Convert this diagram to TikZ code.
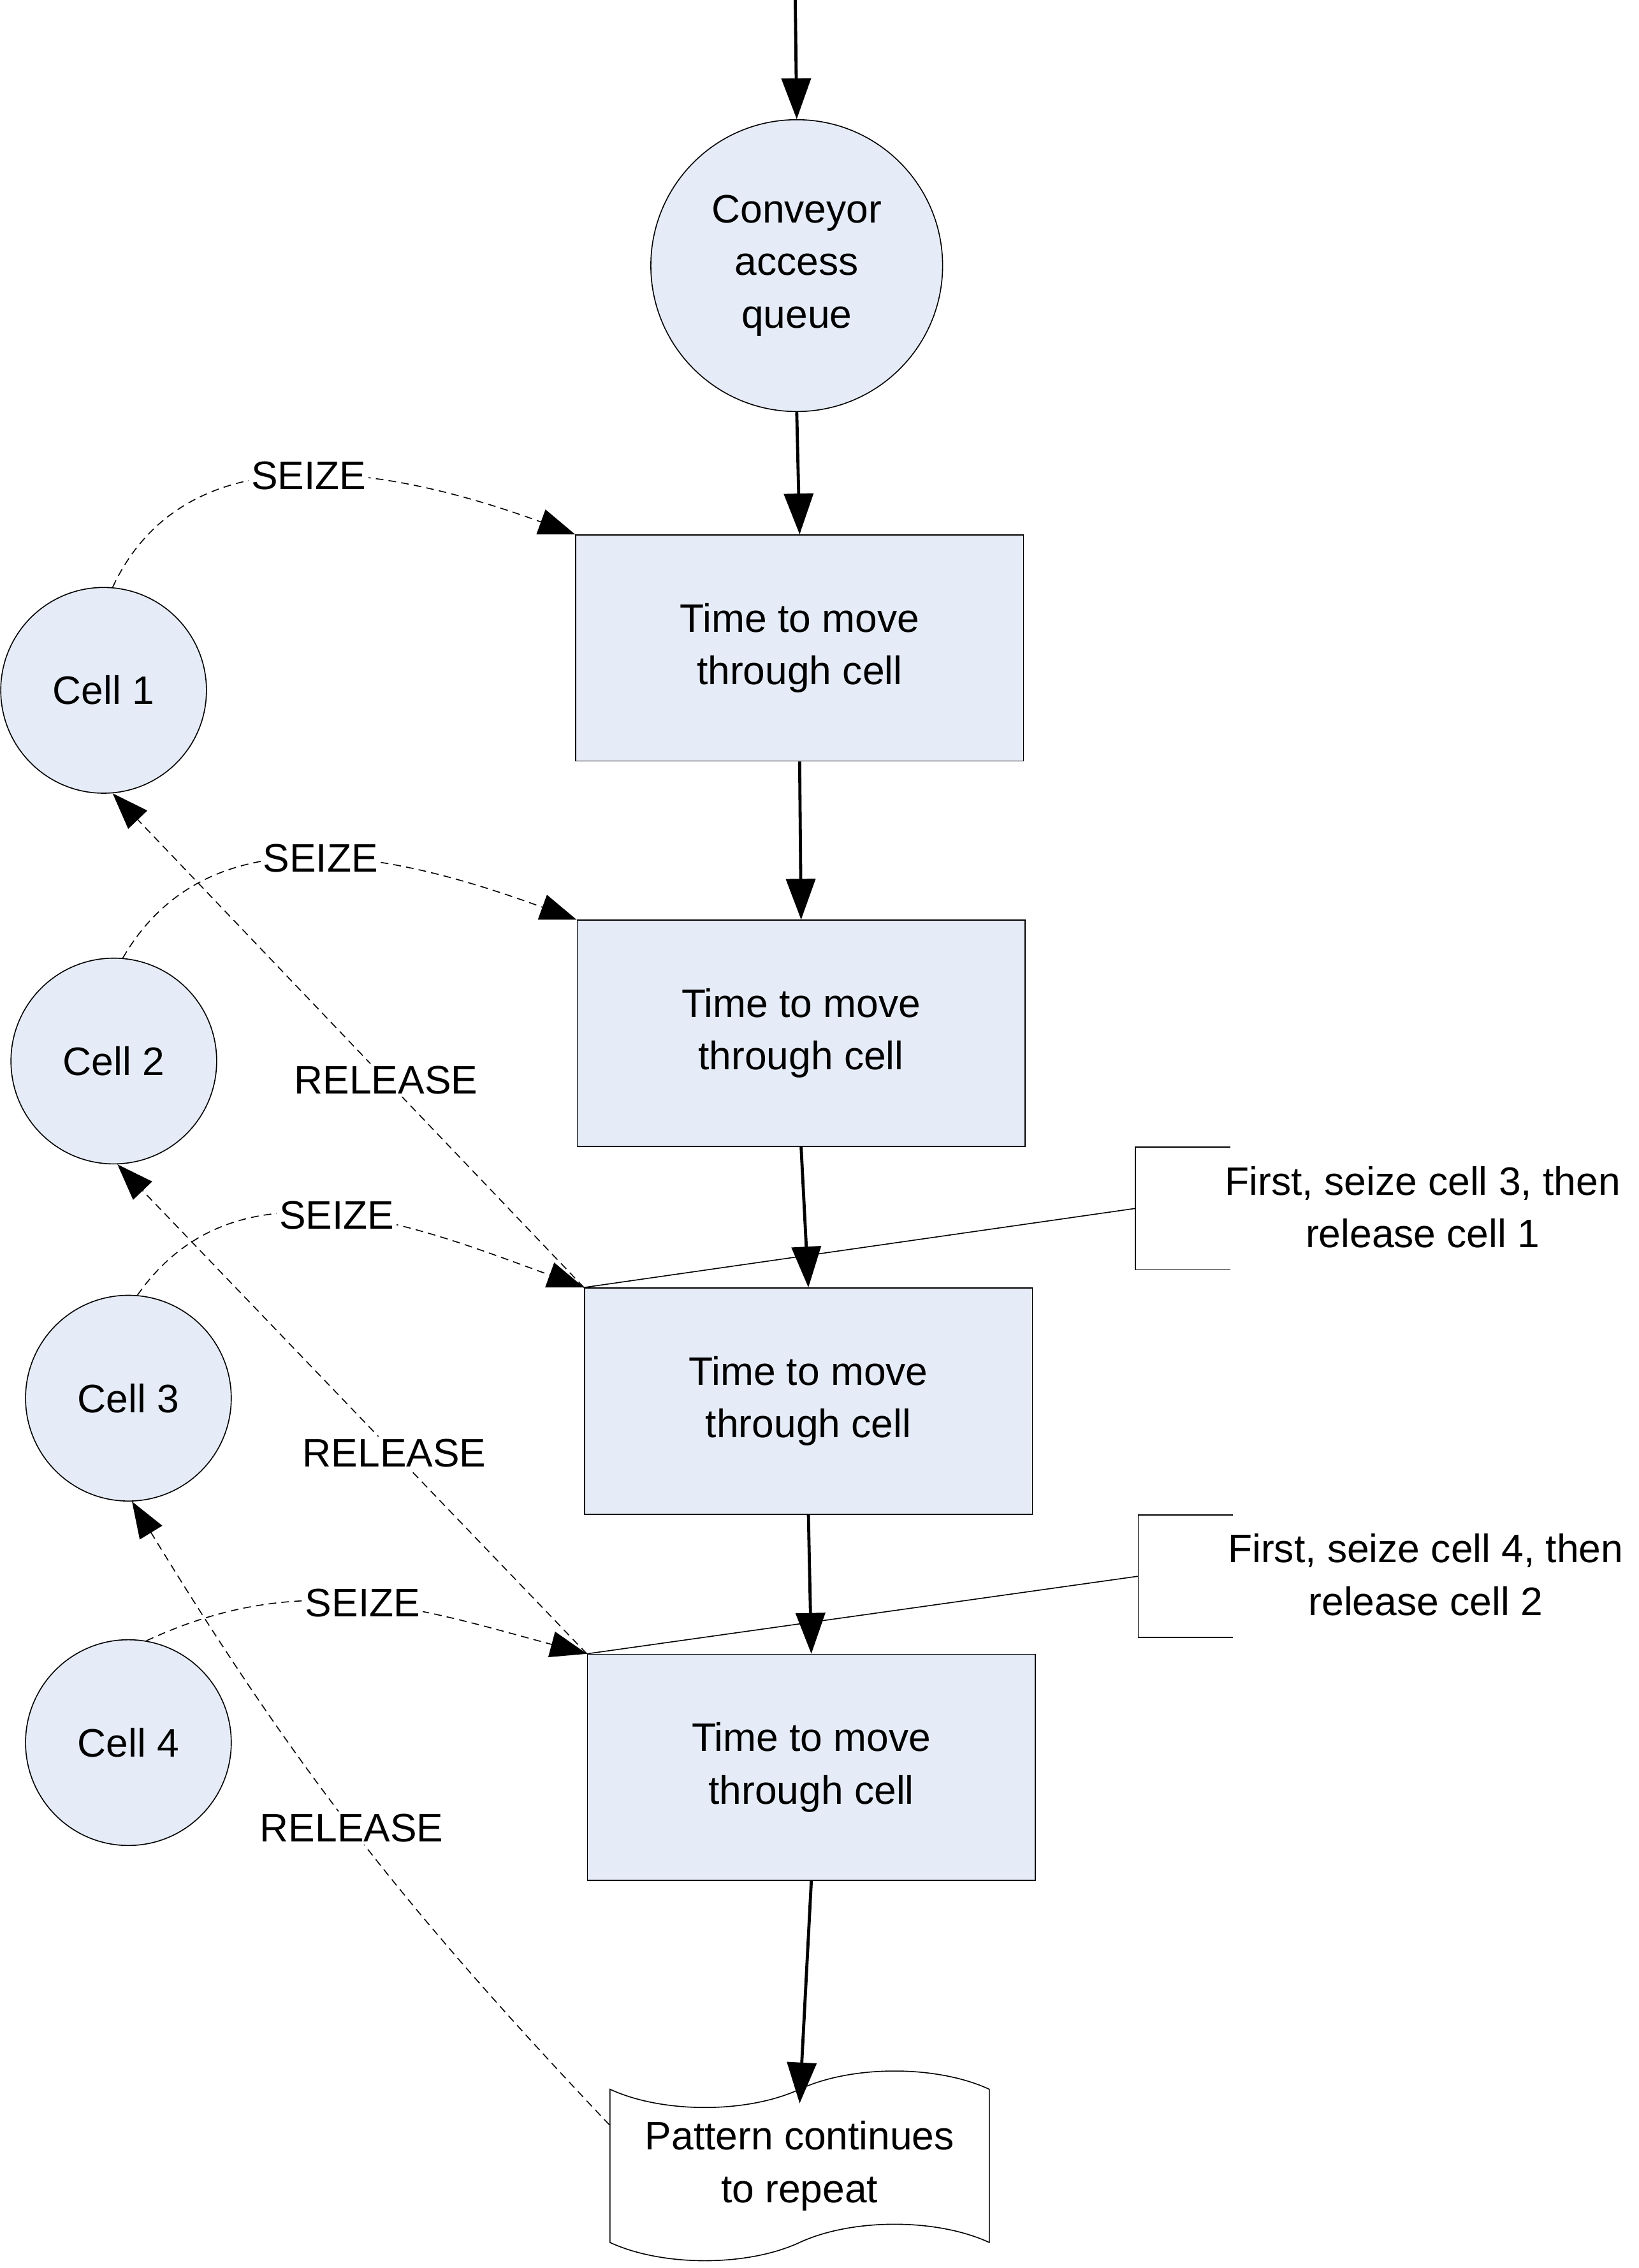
\documentclass[tikz,border=0pt]{standalone}
\usepackage{fontspec}
\setmainfont{Liberation Sans}
\usetikzlibrary{arrows.meta,shapes.symbols}
\definecolor{boxfill}{HTML}{E6ECF7}

\begin{document}
\begin{tikzpicture}[x=0.02cm,y=-0.02cm,
        every node/.style={font=\fontsize{15.5}{20.5}\selectfont},
        blk/.style={draw, fill=boxfill, minimum width=6.14cm, minimum height=3.1cm, align=center},
        cell/.style={circle, draw, fill=boxfill, minimum size=2.82cm, inner sep=0pt},
        flow/.style={-{Triangle[length=0.56cm,width=0.4cm]}, very thick},
        link/.style={densely dashed, -{Triangle[length=0.5cm,width=0.36cm]}},
        lbl/.style={fill=white, inner sep=1pt}]
    \useasboundingbox (0,0) rectangle (1123,1554);

    % nodes
    \node[circle, draw, fill=boxfill, minimum size=4cm, align=center] (Q) at (546,182) {Conveyor\\access\\queue};
    \node[blk] (B1) at (548,444) {Time to move\\through cell};
    \node[blk] (B2) at (549,708) {Time to move\\through cell};
    \node[blk] (B3) at (554,960) {Time to move\\through cell};
    \node[blk] (B4) at (556,1211) {Time to move\\through cell};
    \node[tape, draw, minimum width=5.2cm, minimum height=2.6cm, tape bend height=0.5cm, align=center] (P) at (548,1484) {Pattern continues\\to repeat};

    \node[cell] (C1) at (71,473) {Cell 1};
    \node[cell] (C2) at (78,727) {Cell 2};
    \node[cell] (C3) at (88,958) {Cell 3};
    \node[cell] (C4) at (88,1194) {Cell 4};

    \node[align=center] (N1) at (975,827) {First, seize cell 3, then\\release cell 1};
    \node[align=center] (N2) at (977,1079) {First, seize cell 4, then\\release cell 2};
    \coordinate (in) at (545,0);

    % main flow
    \draw[flow] (in) -- (Q.north);
    \draw[flow] (Q.south) -- (B1.north);
    \draw[flow] (B1.south) -- (B2.north);
    \draw[flow] (B2.south) -- (B3.north);
    \draw[flow] (B3.south) -- (B4.north);
    \draw[flow] (B4.south) -- ([yshift=-0.2cm]P.north);

    % seize
    \draw[link] (C1.85) to[out=65,in=160] node[lbl,pos=0.5] {SEIZE} (B1.north west);
    \draw[link] (C2.85) to[out=60,in=160] node[lbl,pos=0.5] {SEIZE} (B2.north west);
    \draw[link] (C3.85) to[out=55,in=160] node[lbl,pos=0.5] {SEIZE} (B3.north west);
    \draw[link] (C4.80) to[out=25,in=165] node[lbl,pos=0.5] {SEIZE} (B4.north west);

    % release
    \draw[link] (B3.north west) -- node[lbl,pos=0.42] {RELEASE} (C1.-85);
    \draw[link] (B4.north west) -- node[lbl,pos=0.41] {RELEASE} (C2.-88);
    \draw[link] ([yshift=-0.5cm]P.north west) to[bend left=6] node[lbl,pos=0.5] {RELEASE} (C3.-88);

    % notes
    \draw (B3.north west) -- (778,828);
    \draw (843,786) -- (778,786) -- (778,870) -- (843,870);
    \draw (B4.north west) -- (780,1080);
    \draw (845,1038) -- (780,1038) -- (780,1122) -- (845,1122);
\end{tikzpicture}
\end{document}
